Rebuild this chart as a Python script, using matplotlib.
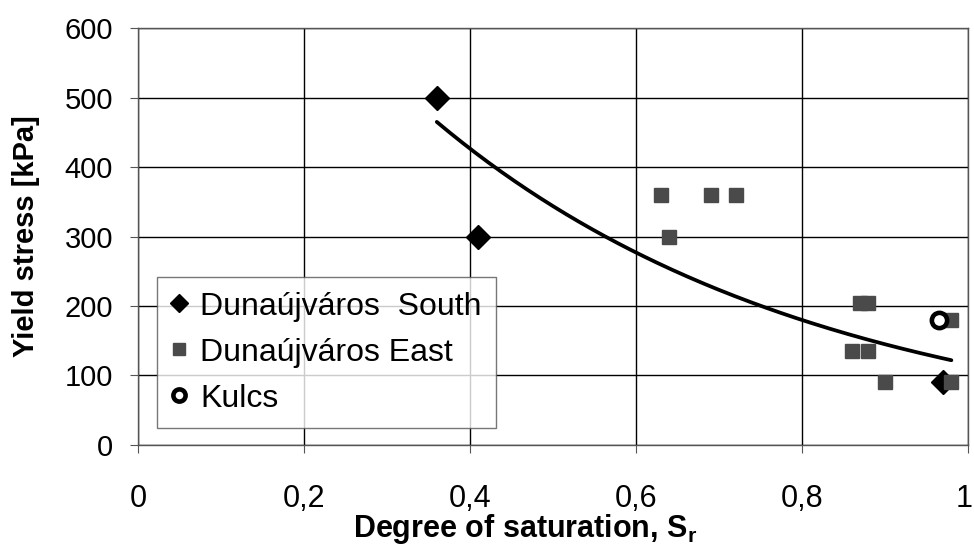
import matplotlib
matplotlib.use("Agg")
import matplotlib.pyplot as plt
import matplotlib.transforms as mtransforms
import numpy as np
from matplotlib.ticker import FuncFormatter

plt.rcParams['font.family'] = ['Liberation Sans', 'DejaVu Sans']

# Dunaujvaros South
south_sr = [0.36, 0.41, 0.97]
south_ys = [500, 300, 90]

# Dunaujvaros East
east_sr = [0.63, 0.69, 0.72, 0.64, 0.87, 0.88, 0.86, 0.88, 0.90, 0.98, 0.98]
east_ys = [360, 360, 360, 300, 205, 205, 135, 135, 90, 180, 90]

# Kulcs
kulcs_sr = [0.965]
kulcs_ys = [180]

# exponential trendline y = a * exp(b * x)
trend_a = 1011.0
trend_b = -2.158
trend_x0, trend_x1 = 0.36, 0.98

fig = plt.figure(figsize=(9.74, 5.45), dpi=100)
ax = fig.add_axes([0.1417, 0.1835, 0.8521, 0.7651])

xs = np.linspace(trend_x0, trend_x1, 200)
ax.plot(xs, trend_a * np.exp(trend_b * xs), color='black', lw=2.7,
        solid_capstyle='round', zorder=3)

ax.plot(south_sr, south_ys, 'D', color='black', ms=12, ls='none',
        label='Dunaújváros  South', zorder=4)
ax.plot(east_sr, east_ys, 's', color='#4a4a4a', ms=10, ls='none',
        label='Dunaújváros East', zorder=4)
ax.plot(kulcs_sr, kulcs_ys, 'o', mfc='white', mec='black', mew=3.3, ms=11,
        ls='none', label='Kulcs', zorder=5)

ax.set_xlim(0, 1)
ax.set_ylim(0, 600)
ax.set_xticks(np.arange(0, 1.01, 0.2))
ax.set_yticks(np.arange(0, 601, 100))
ax.xaxis.set_major_formatter(FuncFormatter(lambda v, p: ('%g' % round(v, 1)).replace('.', ',')))
ax.grid(True, color='black', lw=1.0)
ax.set_axisbelow(True)
for s in ax.spines.values():
    s.set_color('#555555')
    s.set_linewidth(1.0)
ax.tick_params(length=6, color='#555555')
ax.tick_params(axis='x', labelsize=22, pad=22)
ax.tick_params(axis='y', labelsize=21, pad=12)

# keep the last x label ("1") inside the picture
last = ax.get_xticklabels()[-1]
last.set_transform(last.get_transform() +
                   mtransforms.ScaledTranslation(-4 / 100, 0, fig.dpi_scale_trans))

ax.set_xlabel('Degree of saturation, S$_\\mathregular{r}$', fontsize=22, fontweight='bold')
ax.xaxis.set_label_coords(0.467, -0.16)
ax.set_ylabel('Yield stress [kPa]', fontsize=21, fontweight='bold')
ax.yaxis.set_label_coords(-0.118, 0.5)

leg = ax.legend(loc='lower left', bbox_to_anchor=(0.023, 0.041), fontsize=23,
                frameon=True, fancybox=False, edgecolor='#555555',
                handlelength=0.5, handletextpad=0.4, borderpad=0.45,
                labelspacing=0.5, borderaxespad=0, markerscale=0.8)
leg.get_frame().set_linewidth(1.0)

fig.savefig('out.png', dpi=100)
